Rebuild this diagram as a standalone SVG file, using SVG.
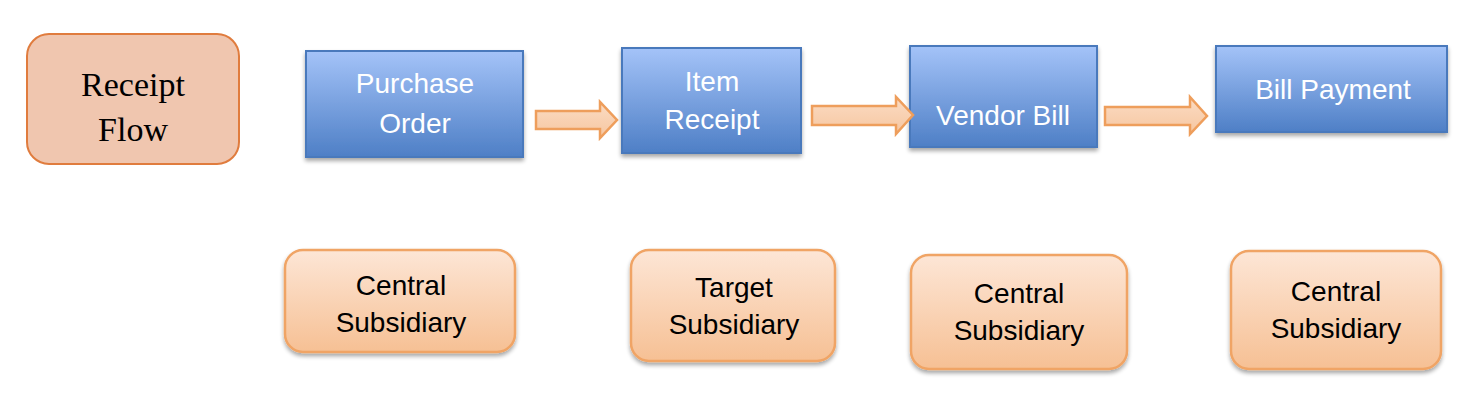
<svg xmlns="http://www.w3.org/2000/svg" width="1482" height="416" viewBox="0 0 1482 416">
<defs>
<linearGradient id="gBlue" x1="0" y1="0" x2="0" y2="1">
<stop offset="0" stop-color="#A4C3F8"/>
<stop offset="1" stop-color="#4E7FC6"/>
</linearGradient>
<linearGradient id="gOr" x1="0" y1="0" x2="0" y2="1">
<stop offset="0" stop-color="#FDE6D6"/>
<stop offset="1" stop-color="#F6C094"/>
</linearGradient>
<linearGradient id="gArr" x1="0" y1="0" x2="0" y2="1">
<stop offset="0" stop-color="#FBDCC4"/>
<stop offset="1" stop-color="#F6C6A0"/>
</linearGradient>
<filter id="sh" x="-10%" y="-10%" width="120%" height="130%">
<feGaussianBlur in="SourceAlpha" stdDeviation="2"/>
<feOffset dx="0" dy="3"/>
<feComponentTransfer><feFuncA type="linear" slope="0.35"/></feComponentTransfer>
<feMerge><feMergeNode/><feMergeNode in="SourceGraphic"/></feMerge>
</filter>
</defs>
<style>
.blue{fill:url(#gBlue);stroke:#4A79BC;stroke-width:2;filter:url(#sh)}
.or{fill:url(#gOr);stroke:#F0A465;stroke-width:2.5;filter:url(#sh)}
.wt{font-family:"Liberation Sans",Arial,sans-serif;font-size:28px;fill:#FFFFFF;text-anchor:middle}
.bt{font-family:"Liberation Sans",Arial,sans-serif;font-size:28px;fill:#000000;text-anchor:middle}
.arr{fill:url(#gArr);stroke:#EE9E5C;stroke-width:2.5;stroke-linejoin:miter}
.sf{font-family:"Liberation Serif","Times New Roman",serif;font-size:34px;fill:#000000;text-anchor:middle}
</style>
<rect width="1482" height="416" fill="#FFFFFF"/>
<g id="receipt-flow">
<rect x="27" y="34" width="212" height="130" rx="22" fill="#F0C6AF" stroke="#E07C3E" stroke-width="2"/>
<text class="sf" x="133" y="96">Receipt</text>
<text class="sf" x="133" y="141">Flow</text>
</g>
<g id="purchase-order">
<rect class="blue" x="306" y="51" width="217" height="106"/>
<text class="wt" x="415" y="93">Purchase</text>
<text class="wt" x="415" y="133">Order</text>
</g>
<g id="item-receipt">
<rect class="blue" x="622" y="48" width="179" height="105"/>
<text class="wt" x="712" y="91">Item</text>
<text class="wt" x="712" y="129">Receipt</text>
</g>
<g id="vendor-bill">
<rect class="blue" x="910" y="46" width="187" height="101"/>
<text class="wt" x="1003" y="125">Vendor Bill</text>
</g>
<g id="bill-payment">
<rect class="blue" x="1216" y="46" width="231" height="86"/>
<text class="wt" x="1333" y="99">Bill Payment</text>
</g>
<g id="connectors">
<path class="arr" d="M536,111 H600 V102 L617,120 L600,138 V129 H536 Z"/>
<path class="arr" d="M812,106 H896 V97 L913,115 L896,134 V125 H812 Z"/>
<path class="arr" d="M1105,107 H1190 V97 L1207,116 L1190,134 V125 H1105 Z"/>
</g>
<g id="central-1">
<rect class="or" x="285" y="250" width="230" height="102" rx="18"/>
<text class="bt" x="401" y="295">Central</text>
<text class="bt" x="401" y="332">Subsidiary</text>
</g>
<g id="target">
<rect class="or" x="631" y="250" width="204" height="111" rx="18"/>
<text class="bt" x="734" y="297">Target</text>
<text class="bt" x="734" y="334">Subsidiary</text>
</g>
<g id="central-2">
<rect class="or" x="911" y="255" width="216" height="114" rx="18"/>
<text class="bt" x="1019" y="303">Central</text>
<text class="bt" x="1019" y="340">Subsidiary</text>
</g>
<g id="central-3">
<rect class="or" x="1231" y="251" width="210" height="118" rx="18"/>
<text class="bt" x="1336" y="301">Central</text>
<text class="bt" x="1336" y="338">Subsidiary</text>
</g>
</svg>
